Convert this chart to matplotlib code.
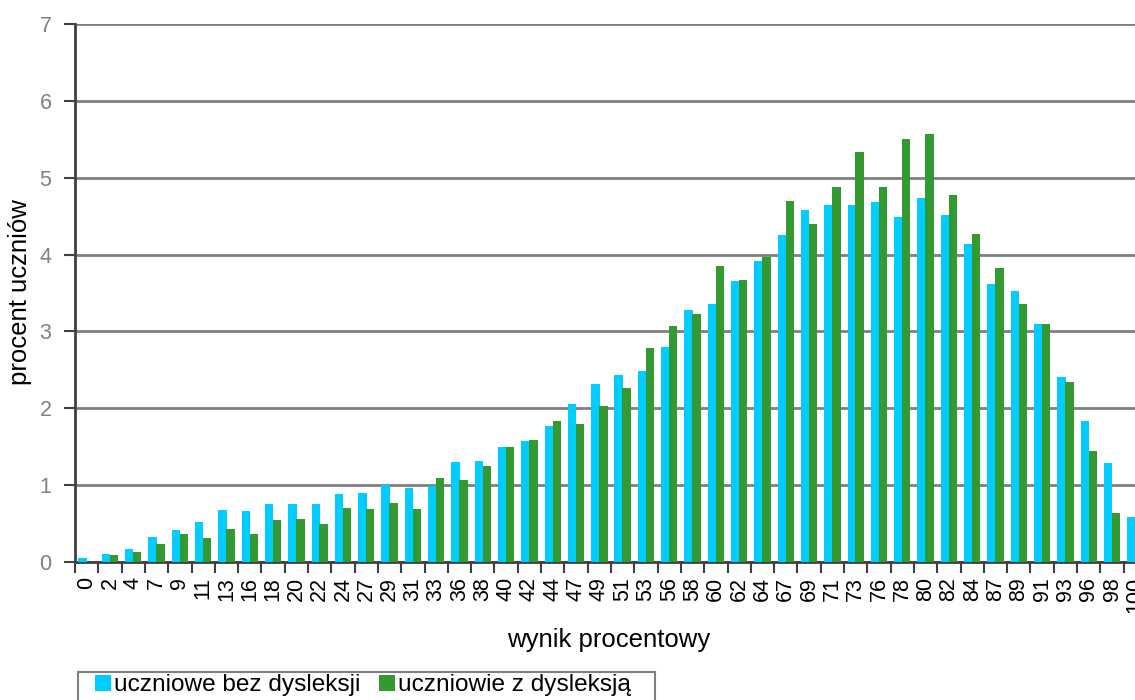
import matplotlib
matplotlib.use("Agg")
import matplotlib.pyplot as plt
from matplotlib.patches import Rectangle
import numpy as np

categories = ["0", "2", "4", "7", "9", "11", "13", "16", "18", "20", "22", "24", "27", "29", "31",
              "33", "36", "38", "40", "42", "44", "47", "49", "51", "53", "56", "58", "60", "62", "64",
              "67", "69", "71", "73", "76", "78", "80", "82", "84", "87", "89", "91", "93", "96", "98", "100"]

bez_dysleksji = [0.05, 0.11, 0.165, 0.32, 0.42, 0.52, 0.68, 0.67, 0.75, 0.76, 0.76, 0.89, 0.90, 1.00, 0.96,
                 0.99, 1.30, 1.32, 1.49, 1.57, 1.77, 2.06, 2.31, 2.43, 2.48, 2.80, 3.28, 3.36, 3.65, 3.92,
                 4.25, 4.58, 4.65, 4.64, 4.68, 4.49, 4.74, 4.52, 4.14, 3.62, 3.52, 3.10, 2.41, 1.84, 1.29, 0.58]

z_dysleksja = [0.0, 0.09, 0.13, 0.23, 0.365, 0.31, 0.43, 0.365, 0.55, 0.565, 0.49, 0.70, 0.69, 0.765, 0.69,
               1.09, 1.07, 1.25, 1.49, 1.59, 1.83, 1.80, 2.03, 2.27, 2.78, 3.07, 3.23, 3.85, 3.67, 3.97,
               4.70, 4.40, 4.88, 5.34, 4.88, 5.51, 5.57, 4.77, 4.27, 3.82, 3.36, 3.10, 2.34, 1.45, 0.64, 0.28]

labels = ["uczniowe bez dysleksji", "uczniowie z dysleksją"]
colors = ["#00CCFF", "#339933"]

plt.rcParams['font.family'] = ['Liberation Sans', 'DejaVu Sans']

W, H = 1135, 700
fig = plt.figure(figsize=(W / 100, H / 100), dpi=100)
left = 75 / W
right = 1147 / W
top = 1 - 24 / H
bottom = 1 - 562 / H
ax = fig.add_axes([left, bottom, right - left, top - bottom])

x = np.arange(len(categories))
w = 0.36
ax.bar(x - 0.17, bez_dysleksji, width=w, color=colors[0], label=labels[0], zorder=3)
ax.bar(x + 0.17, z_dysleksja, width=w, color=colors[1], label=labels[1], zorder=3)

ax.set_xlim(-0.5, len(categories) - 0.5)
ax.set_ylim(0, 7)
ax.set_yticks(range(0, 8))
ax.yaxis.grid(True, color="#808080", linewidth=2, zorder=0)
ax.set_axisbelow(True)

ax.set_xticks(x)
ax.set_xticklabels(categories, rotation=90, fontsize=15.5, color="black")
ax.tick_params(axis='x', which='major', length=0, pad=11)
ax.set_xticks(np.arange(-0.5, len(categories), 1), minor=True)
ax.tick_params(axis='x', which='minor', length=8, width=1.5, color="#404040")
ax.tick_params(axis='y', length=8, width=1.5, color="#404040", labelsize=15.5,
               labelcolor="#808080", pad=9)

for s in ["top", "right"]:
    ax.spines[s].set_visible(False)
ax.spines["left"].set_color("#404040")
ax.spines["left"].set_linewidth(2)
ax.spines["bottom"].set_color("#404040")
ax.spines["bottom"].set_linewidth(2)

fig.text(20 / W, 1 - 292 / H, "procent uczniów", rotation=90, fontsize=18.5,
         ha="center", va="center", color="black")
fig.text(609 / W, 1 - 640 / H, "wynik procentowy", fontsize=18.5,
         ha="center", va="center", color="black")

# legend frame
fig.patches.append(Rectangle((78 / W, 1 - 710 / H), (655 - 78) / W, (710 - 672) / H,
                             transform=fig.transFigure, fill=False, edgecolor="#808080",
                             linewidth=1.5, zorder=5))
leg = fig.legend(loc="upper left", bbox_to_anchor=(93 / W, 1 - 672 / H), ncol=2,
                 fontsize=17.6, frameon=False,
                 handlelength=0.62, handleheight=0.62, handletextpad=0.12, columnspacing=0.8,
                 borderpad=0.1, borderaxespad=0)

fig.savefig("out.png", dpi=100)
